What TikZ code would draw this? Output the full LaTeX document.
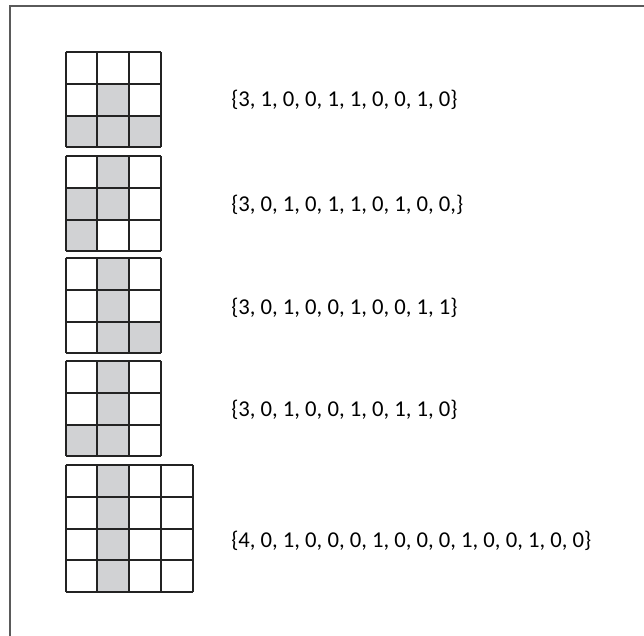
\documentclass[tikz,border=0pt]{standalone}
\usepackage{fontspec}
\setmainfont{Carlito}
\usetikzlibrary{calc}
\definecolor{cella}{RGB}{209,210,212}
\definecolor{bordo}{RGB}{35,35,35}
\definecolor{cornice}{RGB}{90,90,90}
\newcommand{\lato}{31.8}

\begin{document}
\begin{tikzpicture}[x=0.75pt,y=-0.75pt,
    griglia/.style={line width=1.5pt,draw=bordo},
    piena/.style={fill=cella},
    vettore/.style={anchor=west,inner sep=0pt,font=\fontsize{17}{20}\selectfont}]
    \useasboundingbox (0,0) rectangle (644,636);

    % cornice
    \coordinate (C0) at (9.5,636);
    \coordinate (C1) at (9.5,5.5);
    \coordinate (C2) at (644,5.5);
    \draw[line width=1.5pt,cornice] (C0) -- (C1) -- (C2);

    % griglia 1
    \begin{scope}[shift={(65.5,52)}]
        \foreach \c/\r in {1/1,0/2,1/2,2/2}
            \fill[piena] (\c*\lato,\r*\lato) rectangle ++(\lato,\lato);
        \foreach \k in {0,...,3} {
            \draw[griglia] (\k*\lato,0) -- (\k*\lato,3*\lato);
            \draw[griglia] (0,\k*\lato) -- (3*\lato,\k*\lato);
        }
    \end{scope}

    % griglia 2
    \begin{scope}[shift={(65.5,156)}]
        \foreach \c/\r in {1/0,0/1,1/1,0/2}
            \fill[piena] (\c*\lato,\r*\lato) rectangle ++(\lato,\lato);
        \foreach \k in {0,...,3} {
            \draw[griglia] (\k*\lato,0) -- (\k*\lato,3*\lato);
            \draw[griglia] (0,\k*\lato) -- (3*\lato,\k*\lato);
        }
    \end{scope}

    % griglia 3
    \begin{scope}[shift={(65.5,258)}]
        \foreach \c/\r in {1/0,1/1,1/2,2/2}
            \fill[piena] (\c*\lato,\r*\lato) rectangle ++(\lato,\lato);
        \foreach \k in {0,...,3} {
            \draw[griglia] (\k*\lato,0) -- (\k*\lato,3*\lato);
            \draw[griglia] (0,\k*\lato) -- (3*\lato,\k*\lato);
        }
    \end{scope}

    % griglia 4
    \begin{scope}[shift={(65.5,361)}]
        \foreach \c/\r in {1/0,1/1,1/2,0/2}
            \fill[piena] (\c*\lato,\r*\lato) rectangle ++(\lato,\lato);
        \foreach \k in {0,...,3} {
            \draw[griglia] (\k*\lato,0) -- (\k*\lato,3*\lato);
            \draw[griglia] (0,\k*\lato) -- (3*\lato,\k*\lato);
        }
    \end{scope}

    % griglia 5 (4x4)
    \begin{scope}[shift={(65.5,465)}]
        \fill[piena] (\lato,0) rectangle (2*\lato,4*\lato);
        \foreach \k in {0,...,4} {
            \draw[griglia] (\k*\lato,0) -- (\k*\lato,4*\lato);
            \draw[griglia] (0,\k*\lato) -- (4*\lato,\k*\lato);
        }
    \end{scope}

    % vettori
    \node[vettore] (v1) at (231,100) {\{3, 1, 0, 0, 1, 1, 0, 0, 1, 0\}};
    \node[vettore] (v2) at (231,205) {\{3, 0, 1, 0, 1, 1, 0, 1, 0, 0,\}};
    \node[vettore] (v3) at (231,308) {\{3, 0, 1, 0, 0, 1, 0, 0, 1, 1\}};
    \node[vettore] (v4) at (231,410) {\{3, 0, 1, 0, 0, 1, 0, 1, 1, 0\}};
    \node[vettore] (v5) at (231,541) {\{4, 0, 1, 0, 0, 0, 1, 0, 0, 0, 1, 0, 0, 1, 0, 0\}};
\end{tikzpicture}
\end{document}
